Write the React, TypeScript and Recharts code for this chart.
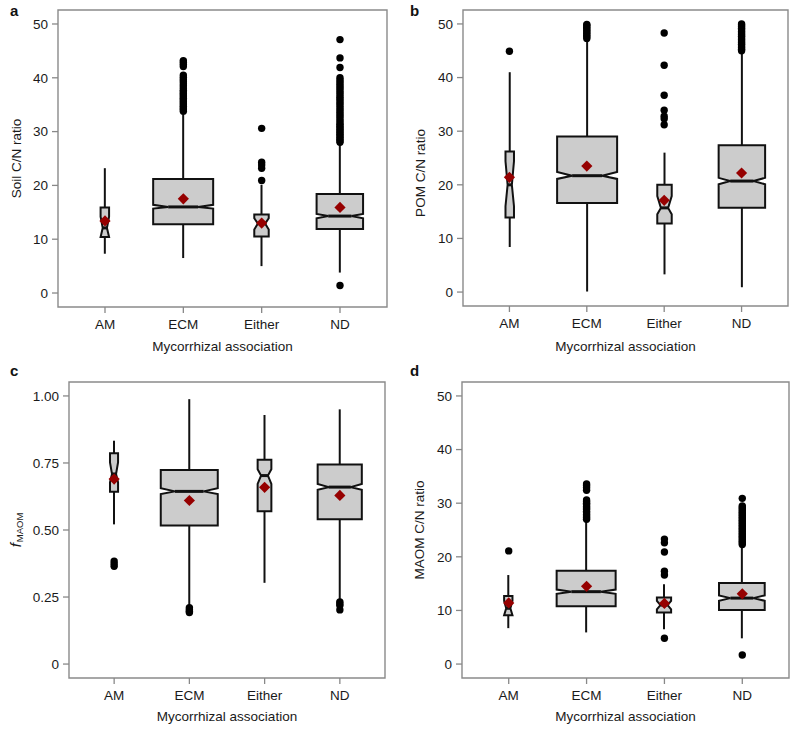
import React from 'react';
import { ComposedChart, Bar, Scatter, XAxis, YAxis, ReferenceArea } from 'recharts';

const FONT = '"Liberation Sans", Arial, Helvetica, sans-serif';

const categories = ['AM', 'ECM', 'Either', 'ND'];
const sampleSizes = [20, 1000, 58, 600];

// Panel a: Soil C/N ratio
const soilWhiskerLow = [7.3, 6.5, 5.0, 3.8];
const soilQ1 = [10.4, 12.8, 10.5, 11.9];
const soilNotchLow = [10.4, 15.7, 11.8, 13.9];
const soilMedian = [12.1, 16.0, 12.9, 14.3];
const soilNotchHigh = [14.2, 16.4, 13.9, 14.7];
const soilQ3 = [15.9, 21.2, 14.6, 18.4];
const soilWhiskerHigh = [23.2, 33.6, 20.1, 27.8];
const soilMean = [13.4, 17.5, 13.0, 15.9];
const soilOutliers = [
  [],
  [33.8, 34.1, 34.4, 34.7, 35.0, 35.3, 35.6, 35.9, 36.2, 36.5, 36.8, 37.1, 37.4, 37.7, 38.1, 38.5, 38.9, 39.3, 39.7, 40.1, 40.5, 42.1, 42.5, 42.9, 43.2],
  [20.9, 23.2, 23.8, 24.3, 30.6],
  [1.4, 28.0, 28.3, 28.6, 28.9, 29.2, 29.5, 29.8, 30.1, 30.4, 30.7, 31.0, 31.3, 31.6, 32.0, 32.4, 32.8, 33.2, 33.6, 34.0, 34.4, 34.8, 35.2, 35.6, 36.0, 36.4, 36.8, 37.2, 37.6, 38.0, 38.4, 38.8, 39.2, 39.6, 40.0, 41.9, 43.7, 47.1],
];

// Panel b: POM C/N ratio
const pomWhiskerLow = [8.4, 0.1, 3.3, 0.9];
const pomQ1 = [13.9, 16.6, 12.8, 15.7];
const pomNotchLow = [16.0, 21.1, 14.5, 20.1];
const pomMedian = [20.0, 21.7, 15.7, 20.7];
const pomNotchHigh = [24.4, 22.4, 17.9, 21.3];
const pomQ3 = [26.2, 29.0, 20.0, 27.4];
const pomWhiskerHigh = [41.0, 47.2, 26.0, 44.7];
const pomMean = [21.4, 23.5, 17.1, 22.2];
const pomOutliers = [
  [44.9],
  [47.3, 47.6, 47.9, 48.2, 48.5, 48.8, 49.1, 49.4, 49.7, 49.9],
  [31.2, 32.3, 32.8, 33.9, 36.7, 42.3, 48.3],
  [45.0, 45.3, 45.6, 45.9, 46.2, 46.5, 46.8, 47.1, 47.4, 47.7, 48.0, 48.3, 48.6, 48.9, 49.2, 49.5, 49.8, 50.0],
];

// Panel c: f_MAOM
const fWhiskerLow = [0.521, 0.22, 0.303, 0.239];
const fQ1 = [0.643, 0.517, 0.57, 0.54];
const fNotchLow = [0.678, 0.634, 0.672, 0.65];
const fMedian = [0.709, 0.644, 0.703, 0.66];
const fNotchHigh = [0.752, 0.656, 0.727, 0.672];
const fQ3 = [0.786, 0.724, 0.762, 0.744];
const fWhiskerHigh = [0.833, 0.988, 0.929, 0.95];
const fMean = [0.69, 0.61, 0.659, 0.629];
const fOutliers = [
  [0.365, 0.374, 0.384],
  [0.192, 0.197, 0.203, 0.21],
  [],
  [0.202, 0.218, 0.225, 0.232],
];

// Panel d: MAOM C/N ratio
const maomWhiskerLow = [6.7, 5.9, 6.5, 4.8];
const maomQ1 = [9.1, 10.8, 9.6, 10.1];
const maomNotchLow = [9.1, 13.1, 10.2, 11.8];
const maomMedian = [10.4, 13.5, 11.0, 12.3];
const maomNotchHigh = [11.8, 13.9, 11.8, 12.8];
const maomQ3 = [12.7, 17.4, 12.4, 15.1];
const maomWhiskerHigh = [16.6, 26.5, 14.9, 21.9];
const maomMean = [11.4, 14.5, 11.3, 13.1];
const maomOutliers = [
  [21.1],
  [27.0, 27.3, 27.6, 27.9, 28.2, 28.5, 28.8, 29.1, 29.4, 29.7, 30.0, 30.3, 30.6, 32.4, 32.9, 33.3, 33.6],
  [4.8, 16.6, 17.3, 20.9, 22.6, 23.3],
  [1.7, 22.3, 22.6, 22.9, 23.2, 23.5, 23.8, 24.1, 24.4, 24.7, 25.0, 25.3, 25.6, 25.9, 26.2, 26.5, 26.8, 27.1, 27.4, 27.7, 28.0, 28.3, 28.6, 28.9, 29.2, 29.5, 30.9],
];

const cnTicks = [0, 10, 20, 30, 40, 50];
const fTicks = [0, 0.25, 0.5, 0.75, 1];

const maxN = Math.max(...sampleSizes);

type Stats = {
  wl: number[]; q1: number[]; nl: number[]; med: number[]; nh: number[]; q3: number[]; wh: number[];
};

function buildBoxes(s: Stats) {
  return categories.map((c, i) => ({
    x: i + 1,
    name: c,
    wl: s.wl[i], q1: s.q1[i], nl: s.nl[i], med: s.med[i], nh: s.nh[i], q3: s.q3[i], wh: s.wh[i],
    rel: Math.sqrt(sampleSizes[i] / maxN),
    range: [s.wl[i], s.wh[i]],
  }));
}

function buildPoints(vals: number[]) {
  return vals.map((v, i) => ({ x: i + 1, y: v }));
}

function buildOutliers(lists: number[][]) {
  const out: { x: number; y: number }[] = [];
  lists.forEach((vals, i) => vals.forEach((v) => out.push({ x: i + 1, y: v })));
  return out;
}

const BoxShape = (props: any) => {
  const { x, y, width, height } = props;
  const p = props.payload ?? props;
  const span = p.wh - p.wl;
  if (!span || !isFinite(height)) return null;
  const k = height / span;
  const Y = (v: number) => y + (p.wh - v) * k;
  const cx = x + width / 2;
  const hw = (width / 2) * p.rel;
  const pts = [
    [cx - hw, Y(p.q1)], [cx + hw, Y(p.q1)], [cx + hw, Y(p.nl)], [cx + hw / 2, Y(p.med)],
    [cx + hw, Y(p.nh)], [cx + hw, Y(p.q3)], [cx - hw, Y(p.q3)], [cx - hw, Y(p.nh)],
    [cx - hw / 2, Y(p.med)], [cx - hw, Y(p.nl)],
  ].map((a) => a.join(',')).join(' ');
  return (
    <g>
      <line x1={cx} x2={cx} y1={Y(p.q3)} y2={Y(p.wh)} stroke="#111" strokeWidth={2} />
      <line x1={cx} x2={cx} y1={Y(p.q1)} y2={Y(p.wl)} stroke="#111" strokeWidth={2} />
      <polygon points={pts} fill="#cccccc" stroke="#111" strokeWidth={2} strokeLinejoin="miter" />
      <line x1={cx - hw / 2} x2={cx + hw / 2} y1={Y(p.med)} y2={Y(p.med)} stroke="#111" strokeWidth={3} />
    </g>
  );
};

const Dot = (props: any) => <circle cx={props.cx} cy={props.cy} r={3.7} fill="#000" />;
const Diamond = (props: any) => {
  const { cx, cy } = props;
  const r = 5.6;
  return <polygon points={`${cx},${cy - r} ${cx + r},${cy} ${cx},${cy + r} ${cx - r},${cy}`} fill="#960000" />;
};

type PanelProps = {
  letter: string; left: number; top: number; width: number; height: number;
  margin: { top: number; right: number; bottom: number; left: number };
  yAxisWidth: number; xAxisHeight: number; yDomain: [number, number]; yTicks: number[];
  yFormat: (v: number) => string; stats: Stats; means: number[]; outliers: number[][];
  yTitle: React.ReactNode; yTitleX: number; yTitleShift: number; barSize: number;
};

function Panel(pp: PanelProps) {
  const boxes = buildBoxes(pp.stats);
  const meanPts = buildPoints(pp.means);
  const outPts = buildOutliers(pp.outliers);
  const yTitleContent = (props: any) => {
    const vb = props.viewBox || {};
    const cx = (vb.x ?? 0) + pp.yTitleX;
    const cy = (vb.y ?? 0) + (vb.height ?? 0) / 2 + pp.yTitleShift;
    return (
      <text x={cx} y={cy} transform={`rotate(-90 ${cx} ${cy})`} textAnchor="middle" dominantBaseline="central"
        fontSize={13.5} fill="#1a1a1a" fontFamily={FONT}>
        {pp.yTitle}
      </text>
    );
  };
  return (
    <div style={{ position: 'absolute', left: pp.left, top: pp.top, width: pp.width, height: pp.height }}>
      <div style={{ position: 'absolute', left: 10, top: 2.5, fontFamily: FONT, fontWeight: 'bold', fontSize: 15, lineHeight: '15px', color: '#111' }}>
        {pp.letter}
      </div>
      <ComposedChart width={pp.width} height={pp.height} data={boxes} margin={pp.margin} style={{ fontFamily: FONT }}>
        <XAxis
          dataKey="x" type="number" domain={[0.4, 4.6]} ticks={[1, 2, 3, 4]} interval={0}
          allowDataOverflow height={pp.xAxisHeight} axisLine={false}
          tickLine={{ stroke: '#888', strokeWidth: 1.3 }} tickSize={6} tickMargin={6}
          tickFormatter={(v: number) => categories[v - 1] ?? ''}
          tick={{ fontSize: 13.5, fill: '#1a1a1a', fontFamily: FONT }}
          label={{ value: 'Mycorrhizal association', position: 'insideBottom', offset: 9.5, fontSize: 13.5, fill: '#1a1a1a', fontFamily: FONT }}
        />
        <YAxis
          type="number" domain={pp.yDomain} ticks={pp.yTicks} interval={0} allowDataOverflow
          width={pp.yAxisWidth} axisLine={false} tickLine={{ stroke: '#888', strokeWidth: 1.3 }}
          tickSize={6} tickMargin={4} tickFormatter={pp.yFormat}
          tick={{ fontSize: 13.5, fill: '#1a1a1a', fontFamily: FONT }}
          label={yTitleContent}
        />
        <Bar dataKey="range" barSize={pp.barSize} isAnimationActive={false} shape={(props: any) => <BoxShape {...props} />} />
        <Scatter data={outPts} dataKey="y" isAnimationActive={false} shape={(props: any) => <Dot {...props} />} />
        <Scatter data={meanPts} dataKey="y" isAnimationActive={false} shape={(props: any) => <Diamond {...props} />} />
        <ReferenceArea x1={0.4} x2={4.6} y1={pp.yDomain[0]} y2={pp.yDomain[1]} fill="none" fillOpacity={0}
          stroke="#8a8a8a" strokeWidth={1.4} ifOverflow="visible" />
      </ComposedChart>
    </div>
  );
}

const cnFormat = (v: number) => String(v);
const fFormat = (v: number) => (v === 0 ? '0' : v.toFixed(2));

export default function App() {
  return (
    <div style={{ position: 'absolute', left: 0, top: 0, width: 801, height: 730, background: '#fff' }}>
      <Panel
        letter="a" left={0} top={0} width={400} height={360}
        margin={{ top: 10, right: 13, bottom: 0, left: 0 }} yAxisWidth={58} xAxisHeight={53}
        yDomain={[-2.6, 52.6]} yTicks={cnTicks} yFormat={cnFormat}
        stats={{ wl: soilWhiskerLow, q1: soilQ1, nl: soilNotchLow, med: soilMedian, nh: soilNotchHigh, q3: soilQ3, wh: soilWhiskerHigh }}
        means={soilMean} outliers={soilOutliers} yTitle="Soil C/N ratio" yTitleX={16} yTitleShift={0} barSize={60}
      />
      <Panel
        letter="b" left={400} top={0} width={400} height={360}
        margin={{ top: 10, right: 12, bottom: 0, left: 0 }} yAxisWidth={63} xAxisHeight={54}
        yDomain={[-2.6, 52.6]} yTicks={cnTicks} yFormat={cnFormat}
        stats={{ wl: pomWhiskerLow, q1: pomQ1, nl: pomNotchLow, med: pomMedian, nh: pomNotchHigh, q3: pomQ3, wh: pomWhiskerHigh }}
        means={pomMean} outliers={pomOutliers} yTitle="POM C/N ratio" yTitleX={20} yTitleShift={15} barSize={60}
      />
      <Panel
        letter="c" left={0} top={360} width={400} height={370}
        margin={{ top: 22, right: 15, bottom: 0, left: 0 }} yAxisWidth={69} xAxisHeight={52}
        yDomain={[-0.052, 1.052]} yTicks={fTicks} yFormat={fFormat}
        stats={{ wl: fWhiskerLow, q1: fQ1, nl: fNotchLow, med: fMedian, nh: fNotchHigh, q3: fQ3, wh: fWhiskerHigh }}
        means={fMean} outliers={fOutliers}
        yTitle={[
          <tspan key="f" fontStyle="italic" fontSize={15}>f</tspan>,
          <tspan key="s" fontSize={9.5} dy={4} dx={1}>MAOM</tspan>,
        ]}
        yTitleX={15} yTitleShift={0} barSize={57}
      />
      <Panel
        letter="d" left={400} top={360} width={400} height={370}
        margin={{ top: 22, right: 11, bottom: 0, left: 0 }} yAxisWidth={62} xAxisHeight={52}
        yDomain={[-2.6, 52.6]} yTicks={cnTicks} yFormat={cnFormat}
        stats={{ wl: maomWhiskerLow, q1: maomQ1, nl: maomNotchLow, med: maomMedian, nh: maomNotchHigh, q3: maomQ3, wh: maomWhiskerHigh }}
        means={maomMean} outliers={maomOutliers} yTitle="MAOM C/N ratio" yTitleX={19} yTitleShift={0} barSize={59}
      />
    </div>
  );
}
